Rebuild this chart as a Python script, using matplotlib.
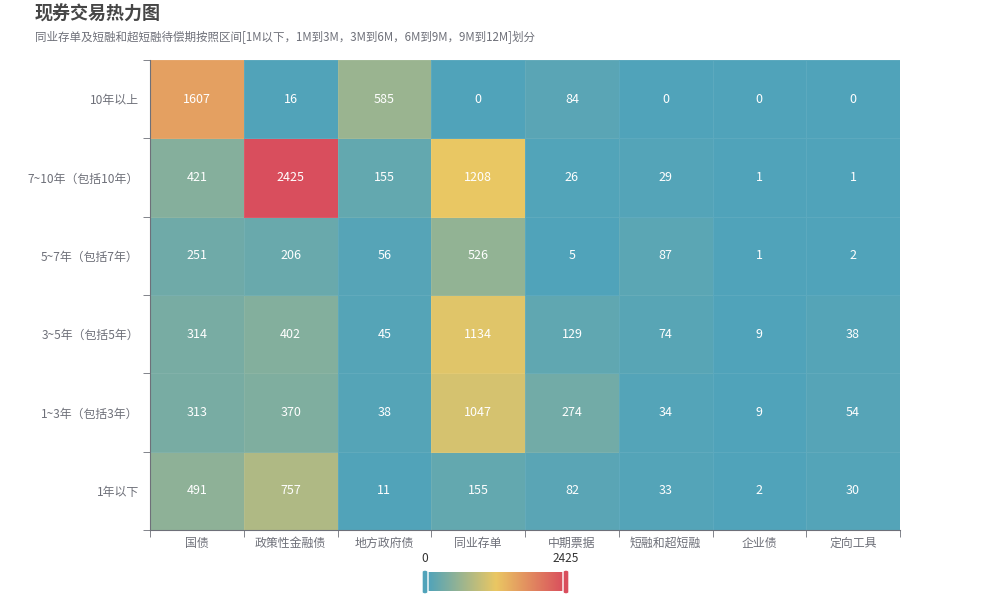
import numpy as np
import matplotlib
matplotlib.use("Agg")
import matplotlib.pyplot as plt
from matplotlib.colors import LinearSegmentedColormap, Normalize
from matplotlib.patches import FancyBboxPatch

plt.rcParams['font.family'] = ['Noto Sans CJK SC', 'DejaVu Sans']

# --- data ---
x_cats = ["国债", "政策性金融债", "地方政府债", "同业存单", "中期票据", "短融和超短融", "企业债", "定向工具"]
y_cats = ["1年以下", "1~3年（包括3年）", "3~5年（包括5年）", "5~7年（包括7年）", "7~10年（包括10年）", "10年以上"]
# rows follow y_cats (bottom to top)
row_1y = [491, 757, 11, 155, 82, 33, 2, 30]
row_1_3 = [313, 370, 38, 1047, 274, 34, 9, 54]
row_3_5 = [314, 402, 45, 1134, 129, 74, 9, 38]
row_5_7 = [251, 206, 56, 526, 5, 87, 1, 2]
row_7_10 = [421, 2425, 155, 1208, 26, 29, 1, 1]
row_10p = [1607, 16, 585, 0, 84, 0, 0, 0]
vmin, vmax = 0, 2425

vals = np.array([row_1y, row_1_3, row_3_5, row_5_7, row_7_10, row_10p])

cmap = LinearSegmentedColormap.from_list("vm", ["#50a3ba", "#eac763", "#d94e5d"])
norm = Normalize(vmin, vmax)
axis_col = "#6e7079"

fig = plt.figure(figsize=(10, 6), dpi=100)
ax = fig.add_axes([0.15, 1 - 530/600, 0.75, 470/600])
ax.pcolormesh(np.arange(len(x_cats) + 1), np.arange(len(y_cats) + 1), vals,
              cmap=cmap, norm=norm, edgecolor=(1, 1, 1, 0.07), linewidth=0.5)
for i in range(len(y_cats)):
    for j in range(len(x_cats)):
        ax.text(j + 0.5, i + 0.5, str(vals[i, j]), ha="center", va="center",
                color="white", fontsize=9, fontweight="medium")

ax.set_xlim(0, len(x_cats)); ax.set_ylim(0, len(y_cats))
ax.set_xticks(np.arange(len(x_cats)) + 0.5, x_cats)
ax.set_yticks(np.arange(len(y_cats)) + 0.5, y_cats)
ax.set_xticks(np.arange(len(x_cats) + 1), minor=True)
ax.set_yticks(np.arange(len(y_cats) + 1), minor=True)
ax.tick_params(which="major", length=0, colors=axis_col, labelsize=8.6)
ax.tick_params(axis="x", which="major", pad=5)
ax.tick_params(axis="y", which="major", pad=8)
ax.tick_params(which="minor", length=5, color=axis_col)
for s in ["top", "right"]:
    ax.spines[s].set_visible(False)
for s in ["left", "bottom"]:
    ax.spines[s].set_color(axis_col)

fig.text(0.035, 1 - 14/600, "现券交易热力图", fontsize=13, fontweight="bold",
         color="#464646", va="center")
fig.text(0.035, 1 - 38/600, "同业存单及短融和超短融待偿期按照区间[1M以下，1M到3M，3M到6M，6M到9M，9M到12M]划分",
         fontsize=8.3, color="#6e7079", va="center")

# visual map (continuous) at the bottom
cax = fig.add_axes([0.428, 1 - 591/600, 0.136, 19/600])
grad = np.linspace(vmin, vmax, 256).reshape(1, -1)
cax.imshow(grad, aspect="auto", cmap=cmap, norm=norm, extent=[vmin, vmax, 0, 1])
cax.set_axis_off()
for xpx, c in [(425, "#50a3ba"), (566, "#d94e5d")]:
    h = FancyBboxPatch(((xpx - 3) / 1000, 1 - 594/600), 6/1000, 24/600,
                       boxstyle="round,pad=0,rounding_size=0.003",
                       transform=fig.transFigure, facecolor=c, edgecolor="white",
                       linewidth=1, zorder=5)
    fig.patches.append(h)
fig.text(425/1000, 1 - 559/600, str(vmin), ha="center", va="center", fontsize=8.6, color="#333333")
fig.text(566/1000, 1 - 559/600, str(vmax), ha="center", va="center", fontsize=8.6, color="#333333")

fig.savefig("out.png", dpi=100)
